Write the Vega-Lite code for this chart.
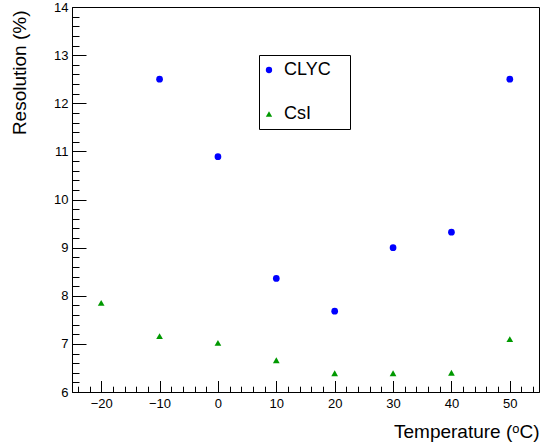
{
  "$schema": "https://vega.github.io/schema/vega-lite/v6.json",
  "autosize": {"type": "none"},
  "padding": {"left": 72, "top": 7, "right": 1, "bottom": 54},
  "width": 467,
  "height": 385,
  "background": "white",
  "config": {
    "font": "Liberation Sans",
    "view": {"stroke": "black", "strokeWidth": 1},
    "axis": {"grid": false, "domainColor": "black", "tickColor": "black", "labelColor": "black", "titleColor": "black", "labelFont": "Liberation Sans", "titleFont": "Liberation Sans", "titleFontWeight": "normal"}
  },
  "data": {
    "values": [
      {"T": -10, "R": 12.5, "det": "CLYC"},
      {"T": 0, "R": 10.89, "det": "CLYC"},
      {"T": 10, "R": 8.36, "det": "CLYC"},
      {"T": 20, "R": 7.68, "det": "CLYC"},
      {"T": 30, "R": 9.0, "det": "CLYC"},
      {"T": 40, "R": 9.32, "det": "CLYC"},
      {"T": 50, "R": 12.5, "det": "CLYC"},
      {"T": -20, "R": 7.85, "det": "CsI"},
      {"T": -10, "R": 7.16, "det": "CsI"},
      {"T": 0, "R": 7.02, "det": "CsI"},
      {"T": 10, "R": 6.66, "det": "CsI"},
      {"T": 20, "R": 6.39, "det": "CsI"},
      {"T": 30, "R": 6.39, "det": "CsI"},
      {"T": 40, "R": 6.4, "det": "CsI"},
      {"T": 50, "R": 7.1, "det": "CsI"}
    ]
  },
  "mark": {"type": "point", "filled": true, "opacity": 1, "size": 45},
  "encoding": {
    "x": {
      "field": "T", "type": "quantitative",
      "scale": {"domain": [-25, 55], "nice": false, "zero": false},
      "axis": {
        "title": "Temperature (ᵒC)",
        "titleAnchor": "end", "titleAlign": "right", "titleFontSize": 19, "titlePadding": 12,
        "values": [-24,-22,-20,-18,-16,-14,-12,-10,-8,-6,-4,-2,0,2,4,6,8,10,12,14,16,18,20,22,24,26,28,30,32,34,36,38,40,42,44,46,48,50,52,54],
        "labelExpr": "datum.value % 10 === 0 ? datum.label : ''",
        "labelFontSize": 13, "labelPadding": 17, "labelFlush": false,
        "tickSize": {"condition": {"test": "datum.value % 10 === 0", "value": -11.5}, "value": -5.8}
      }
    },
    "y": {
      "field": "R", "type": "quantitative",
      "scale": {"domain": [6, 14], "nice": false, "zero": false},
      "axis": {
        "title": "Resolution (%)",
        "titleAnchor": "end", "titleFontSize": 19, "titlePadding": 24, "titleY": 3,
        "values": [6,6.2,6.4,6.6,6.8,7,7.2,7.4,7.6,7.8,8,8.2,8.4,8.6,8.8,9,9.2,9.4,9.6,9.8,10,10.2,10.4,10.6,10.8,11,11.2,11.4,11.6,11.8,12,12.2,12.4,12.6,12.8,13,13.2,13.4,13.6,13.8,14],
        "labelExpr": "abs(datum.value - round(datum.value)) < 0.01 ? format(datum.value, 'd') : ''",
        "labelFontSize": 13, "labelPadding": 18, "labelFlush": false,
        "tickSize": {"condition": {"test": "abs(datum.value - round(datum.value)) < 0.01", "value": -14}, "value": -7}
      }
    },
    "color": {
      "field": "det", "type": "nominal",
      "scale": {"domain": ["CLYC", "CsI"], "range": ["#0000ff", "#009900"]},
      "legend": {
        "title": null, "orient": "none", "legendX": 187, "legendY": 48,
        "strokeColor": "black", "fillColor": "white", "padding": 6,
        "labelFontSize": 18, "labelFont": "Liberation Sans", "labelColor": "black",
        "labelExpr": "datum.label + '\u2800'",
        "rowPadding": 26, "symbolSize": 40, "symbolOffset": -5, "labelOffset": 6, "symbolOpacity": 1
      }
    },
    "shape": {
      "field": "det", "type": "nominal",
      "scale": {"domain": ["CLYC", "CsI"], "range": ["circle", "triangle-up"]}
    }
  }
}
